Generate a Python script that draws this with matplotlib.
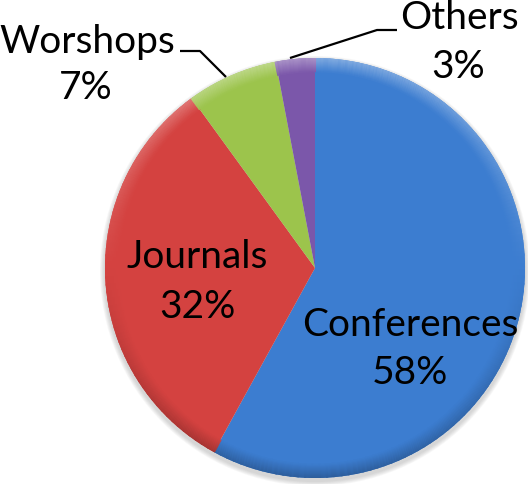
import numpy as np
import matplotlib.pyplot as plt
from matplotlib.patches import Wedge, Circle

labels = ["Conferences", "Journals", "Worshops", "Others"]
shares = [58, 32, 7, 3]
colors = ["#3c7dd0", "#d44240", "#9cc44c", "#7b57aa"]

W, H = 528, 484
fig = plt.figure(figsize=(W / 100, H / 100), dpi=100)
ax = fig.add_axes([0, 0, 1, 1])

cx, cy, r = 315, 216, 210

# soft drop shadow under the pie
for i in range(6):
    ax.add_patch(Circle((cx, cy - 3), r + 1 + i * 0.8, facecolor="grey",
                        alpha=0.06, edgecolor="none", zorder=0))

wedges, _ = ax.pie(shares, colors=colors, startangle=90, counterclock=False,
                   center=(cx, cy), radius=r, frame=True,
                   wedgeprops=dict(edgecolor="none"))
ax.set_xlim(0, W)
ax.set_ylim(0, H)
ax.set_aspect("equal")
ax.axis("off")

# bevel: light rim at the top of each slice, darker towards the bottom
for w, c in zip(wedges, colors):
    t1, t2 = w.theta1, w.theta2
    rgb = np.array(plt.matplotlib.colors.to_rgb(c))
    n = 14
    for i in range(n):
        rr = r - i
        f = (n - i) / n
        steps = max(int(abs(t2 - t1) / 2), 2)
        angs = np.linspace(t1, t2, steps + 1)
        for a0, a1 in zip(angs[:-1], angs[1:]):
            am = np.deg2rad((a0 + a1) / 2)
            s = np.sin(am)
            if s > 0:
                col = rgb + (1 - rgb) * 0.35 * s * f
            else:
                col = rgb * (1 - 0.25 * (-s) * f)
            ax.add_patch(Wedge((cx, cy), rr, a0 - 0.3, a1 + 0.3, width=1.3,
                               facecolor=np.clip(col, 0, 1), edgecolor="none"))

font = dict(family="Lato", color="black")
fs = 28

ax.text(410, H - 325, "Conferences", ha="center", va="center", fontsize=fs, **font)
ax.text(410, H - 373, "58%", ha="center", va="center", fontsize=fs, **font)
ax.text(197, H - 257, "Journals", ha="center", va="center", fontsize=fs, **font)
ax.text(197, H - 307, "32%", ha="center", va="center", fontsize=fs, **font)
ax.text(87, H - 42, "Worshops", ha="center", va="center", fontsize=fs, **font)
ax.text(86, H - 88, "7%", ha="center", va="center", fontsize=fs, **font)
ax.text(459, H - 18, "Others", ha="center", va="center", fontsize=fs, **font)
ax.text(458, H - 67, "3%", ha="center", va="center", fontsize=fs, **font)

# leader lines
ax.plot([180, 200, 226], [H - 51, H - 51, H - 77], color="black", lw=1.6,
        solid_capstyle="butt")
ax.plot([397, 377, 290], [H - 30, H - 30, H - 58], color="black", lw=1.6,
        solid_capstyle="butt")

fig.savefig("out.png", dpi=100)
